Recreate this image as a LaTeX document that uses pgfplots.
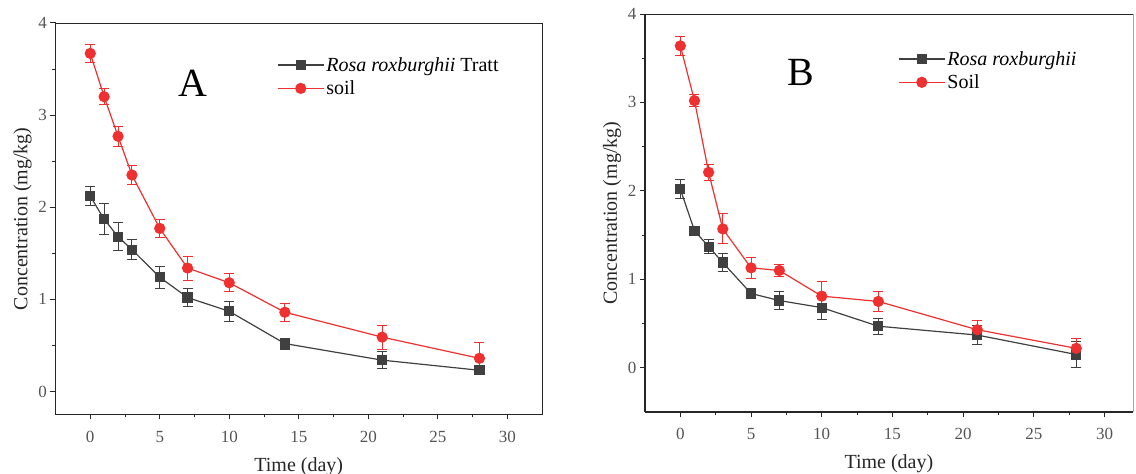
\documentclass[border=0pt]{standalone}
\usepackage{fontspec}
\setmainfont{Liberation Serif}
\usepackage{pgfplots}
\usepackage{pgfplotstable}
\pgfplotsset{compat=1.18}
\definecolor{rg}{HTML}{404040}
\definecolor{sr}{HTML}{EE3030}
\definecolor{tk}{HTML}{555555}

\pgfplotstableread{
x y e
0 2.12 0.10
1 1.87 0.17
2 1.68 0.15
3 1.54 0.11
5 1.24 0.12
7 1.02 0.10
10 0.87 0.11
14 0.52 0.06
21 0.34 0.09
28 0.23 0.03
}\rosaA
\pgfplotstableread{
x y e
0 3.67 0.10
1 3.20 0.09
2 2.77 0.11
3 2.35 0.10
5 1.77 0.10
7 1.34 0.13
10 1.18 0.10
14 0.86 0.10
21 0.59 0.13
28 0.36 0.17
}\soilA
\pgfplotstableread{
x y e
0 2.02 0.11
1 1.55 0.03
2 1.37 0.08
3 1.19 0.10
5 0.84 0.03
7 0.76 0.10
10 0.68 0.13
14 0.47 0.09
21 0.37 0.11
28 0.15 0.15
}\rosaB
\pgfplotstableread{
x y e
0 3.64 0.11
1 3.02 0.07
2 2.21 0.09
3 1.57 0.17
5 1.13 0.12
7 1.10 0.07
10 0.81 0.16
14 0.75 0.11
21 0.43 0.10
28 0.22 0.11
}\soilB

\pgfplotsset{
  panel/.style={
    scale only axis,
    axis lines*=left,
    axis line style={line width=1.3pt, color=black!85},
    xmin=-2.5, ymax=4,
    xtick={0,5,...,30}, ytick={0,1,2,3,4},
    minor x tick num=1, minor y tick num=1,
    tick align=outside,
    major tick length=5pt, minor tick length=3pt,
    every tick/.style={line width=1pt, color=black!85},
    /pgf/number format/assume math mode=true,
    tick label style={font=\fontsize{17}{17}\selectfont, color=tk},
    xticklabel style={yshift=-8pt},
    label style={font=\fontsize{20}{20}\selectfont, color=black!85},
    xlabel style={yshift=-8pt},
    xlabel={Time (day)}, ylabel={Concentration (mg/kg)},
    legend style={draw=none, fill=none, font=\fontsize{20}{20}\selectfont, anchor=north west,
      row sep=4pt, legend cell align=left},
    legend image code/.code={\draw[mark repeat=2,mark phase=2] plot coordinates {(0pt,0pt)(23pt,0pt)(46pt,0pt)};},
    clip=false,
  },
  rosa/.style={color=rg, line width=1.2pt, mark=square*, mark size=4.5pt,
    error bars/.cd, y dir=both, y explicit,
    error bar style={line width=1pt},
    error mark options={rotate=90, mark size=5pt, line width=1pt}},
  soil/.style={color=sr, line width=1.2pt, mark=*, mark size=5pt,
    error bars/.cd, y dir=both, y explicit,
    error bar style={line width=1pt},
    error mark options={rotate=90, mark size=5pt, line width=1pt}},
}

\begin{document}
\begin{tikzpicture}
\path[use as bounding box] (0pt,0pt) rectangle (1136pt,474pt);
\begin{axis}[panel, at={(55.5pt,59.5pt)}, anchor=south west,
  width=486.5pt, height=391.5pt, xmax=32.5, ymin=-0.25,
  legend style={at={(0.449,0.923)}}]
\addplot[rosa] table[x=x, y=y, y error=e] {\rosaA};
\addlegendentry{\textit{Rosa roxburghii} Tratt}
\addplot[soil] table[x=x, y=y, y error=e] {\soilA};
\addlegendentry{soil}
\draw[line width=0.8pt, black!85] (rel axis cs:0,1) -- (rel axis cs:1,1) -- (rel axis cs:1,0);
\node[font=\fontsize{40}{40}\selectfont] at (axis cs:7.4,3.35) {A};
\end{axis}
\begin{axis}[panel, at={(645pt,62pt)}, anchor=south west,
  width=487.8pt, height=398pt, xmax=32, ymin=-0.5,
  legend style={at={(0.5125,0.917)}}]
\addplot[rosa] table[x=x, y=y, y error=e] {\rosaB};
\addlegendentry{\textit{Rosa roxburghii}}
\addplot[soil] table[x=x, y=y, y error=e] {\soilB};
\addlegendentry{Soil}
\draw[line width=0.8pt, black!85] (rel axis cs:0,1) -- (rel axis cs:1,1);
\draw[line width=0.6pt, black!35] (rel axis cs:1,1) -- (rel axis cs:1,0);
\node[font=\fontsize{40}{40}\selectfont] at (axis cs:8.5,3.34) {B};
\end{axis}
\end{tikzpicture}
\end{document}
